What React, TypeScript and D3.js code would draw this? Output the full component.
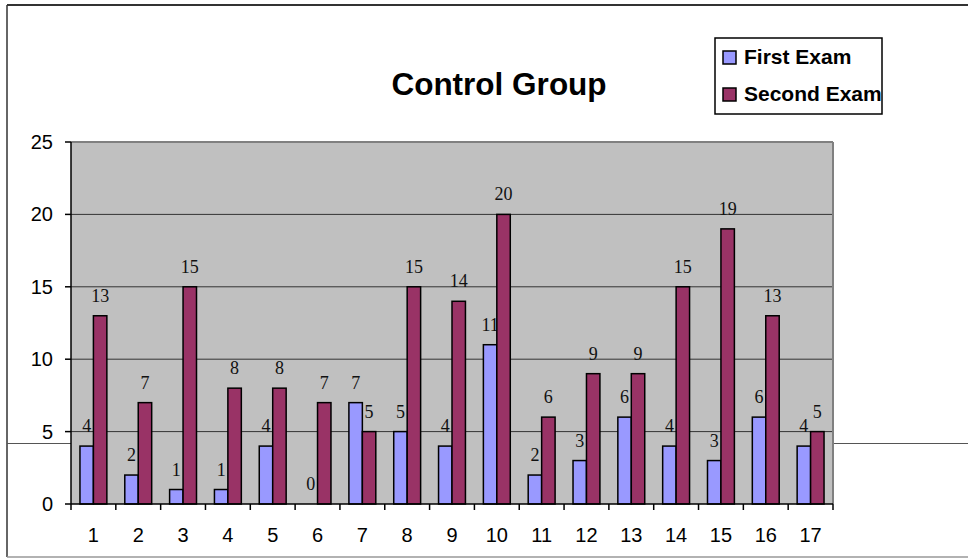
import React from "react";
import * as d3 from "d3";

const categories = ["1","2","3","4","5","6","7","8","9","10","11","12","13","14","15","16","17"];
const firstExam = [4,2,1,1,4,0,7,5,4,11,2,3,6,4,3,6,4];
const secondExam = [13,7,15,8,8,7,5,15,14,20,6,9,9,15,19,13,5];
const seriesNames = ["First Exam", "Second Exam"];
const yTicks = [0,5,10,15,20,25];

const W = 968, H = 558;
const plot = { left: 71, right: 833, top: 142, bottom: 504 };
const colors = ["#9999FF", "#993366"];

export default function App() {
  const x = d3.scaleBand().domain(categories).range([plot.left, plot.right]).padding(0);
  const bw = x.bandwidth();
  const inner = d3.scaleBand().domain(seriesNames).range([bw * 0.2, bw * 0.8]).padding(0);
  const y = d3.scaleLinear().domain([0, 25]).range([plot.bottom, plot.top]);
  const series = [firstExam, secondExam];

  return (
    <div style={{ position: "absolute", left: 0, top: 0 }}>
      <svg width={W} height={H} style={{ display: "block" }}>
        <rect x={0} y={0} width={W} height={H} fill="#fff" />
        {/* outer frame */}
        <line x1={7} y1={5} x2={W} y2={5} stroke="#333" strokeWidth={2} />
        <line x1={7} y1={5} x2={7} y2={557} stroke="#333" strokeWidth={1.5} />
        <line x1={7} y1={557} x2={W} y2={557} stroke="#999" strokeWidth={1.5} />
        {/* stray horizontal line */}
        <line x1={7} y1={443.5} x2={W} y2={443.5} stroke="#555" strokeWidth={1} />
        {/* plot bg */}
        <rect x={plot.left} y={plot.top} width={plot.right - plot.left} height={plot.bottom - plot.top} fill="#C0C0C0" />
        {yTicks.filter(t => t > 0).map(t => (
          <line key={t} x1={plot.left} x2={plot.right} y1={y(t)} y2={y(t)} stroke={t === 25 ? "#808080" : "#333"} strokeWidth={t === 25 ? 2 : 1} />
        ))}
        <line x1={plot.right} x2={plot.right} y1={plot.top} y2={plot.bottom} stroke="#808080" strokeWidth={2} />
        {/* bars */}
        {categories.map((c, i) => (
          <g key={c}>
            {series.map((s, j) => {
              const bx = (x(c) as number) + (inner(seriesNames[j]) as number);
              const by = y(s[i]);
              return (
                <g key={j}>
                  {s[i] > 0 && (
                    <rect x={bx} y={by} width={inner.bandwidth()} height={plot.bottom - by} fill={colors[j]} stroke="#000" strokeWidth={1.5} />
                  )}
                  <text x={bx + inner.bandwidth() / 2} y={by - 14} textAnchor="middle" fontFamily="'Liberation Serif', 'Times New Roman', serif" fontSize={18} fill="#111">{s[i]}</text>
                </g>
              );
            })}
          </g>
        ))}
        {/* axes */}
        <line x1={plot.left} x2={plot.left} y1={plot.top} y2={plot.bottom} stroke="#000" strokeWidth={1.5} />
        <line x1={plot.left} x2={plot.right} y1={plot.bottom} y2={plot.bottom} stroke="#000" strokeWidth={1.5} />
        {yTicks.map(t => (
          <g key={t}>
            <line x1={plot.left - 6} x2={plot.left} y1={y(t)} y2={y(t)} stroke="#000" strokeWidth={1.5} />
            <text x={53} y={y(t) + 7} textAnchor="end" fontFamily="'Liberation Sans', Arial, sans-serif" fontSize={20} fill="#000">{t}</text>
          </g>
        ))}
        {categories.map((c, i) => (
          <g key={c}>
            <line x1={(x(c) as number)} x2={(x(c) as number)} y1={plot.bottom} y2={plot.bottom + 6} stroke="#000" strokeWidth={1.5} />
            {i === categories.length - 1 && (
              <line x1={plot.right} x2={plot.right} y1={plot.bottom} y2={plot.bottom + 6} stroke="#000" strokeWidth={1.5} />
            )}
            <text x={(x(c) as number) + bw / 2} y={542} textAnchor="middle" fontFamily="'Liberation Sans', Arial, sans-serif" fontSize={20} fill="#000">{c}</text>
          </g>
        ))}
        {/* title */}
        <text x={499} y={95} textAnchor="middle" fontFamily="'Liberation Sans', Arial, sans-serif" fontWeight="bold" fontSize={31.5} fill="#000">Control Group</text>
        {/* legend */}
        <rect x={715} y={38} width={167} height={76} fill="#fff" stroke="#000" strokeWidth={1.5} />
        {seriesNames.map((n, j) => (
          <g key={n}>
            <rect x={723} y={51 + j * 37} width={13} height={13} fill={colors[j]} stroke="#000" strokeWidth={1.5} />
            <text x={744} y={64 + j * 37} fontFamily="'Liberation Sans', Arial, sans-serif" fontWeight="bold" fontSize={21} fill="#000">{n}</text>
          </g>
        ))}
      </svg>
    </div>
  );
}
